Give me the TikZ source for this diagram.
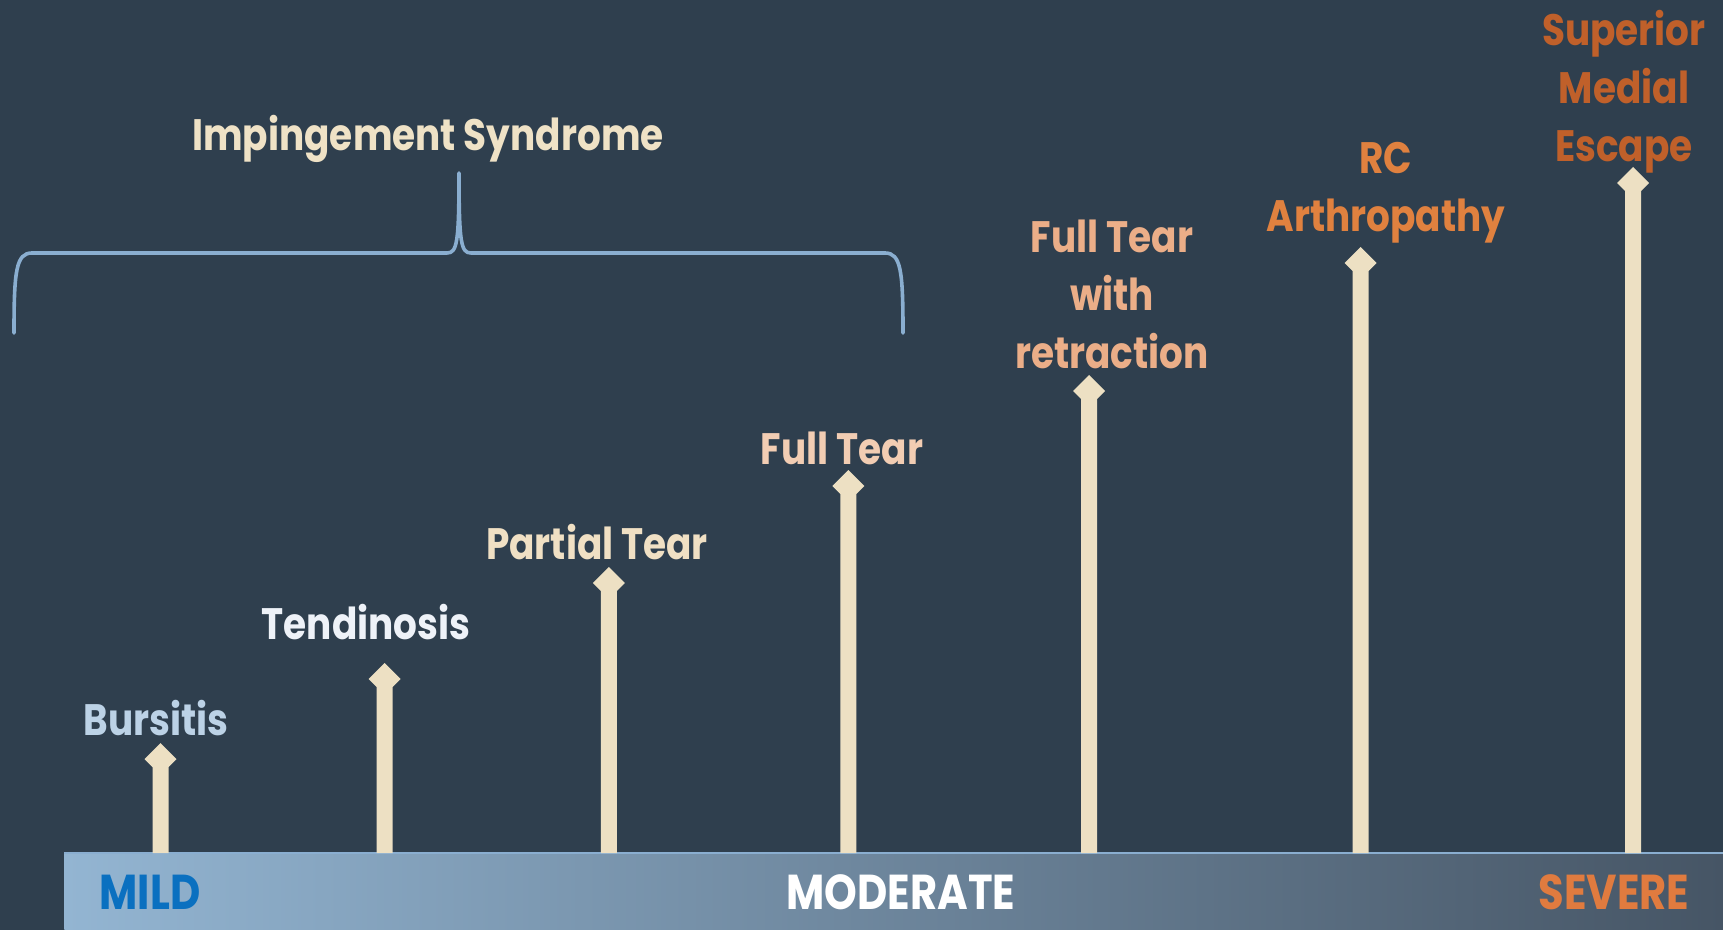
\documentclass[tikz,border=0pt]{standalone}
\usepackage{fontspec}
\setmainfont{Poppins}[FakeStretch=0.85]
\usetikzlibrary{calc}
\definecolor{bg}{HTML}{2F3F4E}
\definecolor{barL}{HTML}{93B5D2}
\definecolor{barR}{HTML}{465565}
\definecolor{arrowc}{HTML}{EDE0C3}
\definecolor{bracec}{HTML}{8AAED0}
\definecolor{cImp}{HTML}{EFE2C6}
\definecolor{cBur}{HTML}{BCD2E6}
\definecolor{cTen}{HTML}{EEF2F8}
\definecolor{cPar}{HTML}{F0E0C4}
\definecolor{cFul}{HTML}{F2CDB3}
\definecolor{cRet}{HTML}{EBAE88}
\definecolor{cRC}{HTML}{E0813F}
\definecolor{cSup}{HTML}{C0602A}
\definecolor{cMild}{HTML}{0A70C0}
\definecolor{cSev}{HTML}{E07B3F}
\tikzset{
  lab/.style={font=\bfseries\fontsize{22}{29}\selectfont, align=center, inner sep=0pt},
  sevtext/.style={font=\bfseries\fontsize{24.5}{29}\selectfont, inner sep=0pt},
  riser/.style={fill=arrowc, draw=none},
}
\newcommand\riserdraw[2]{% base coordinate, tip coordinate
  \fill[riser] ($(#1)+(-8,0)$) -- ($(#2)+(-8,24)$) -- ($(#2)+(-16,16)$) -- (#2)
    -- ($(#2)+(16,16)$) -- ($(#2)+(8,24)$) -- ($(#1)+(8,0)$) -- cycle;}
\begin{document}
\begin{tikzpicture}[x=0.5pt,y=-0.5pt]
\fill[bg] (0,0) rectangle (1723,930);
\useasboundingbox (0,0) rectangle (1723,930);
% severity bar
\node[anchor=north west, minimum width=829.5pt, minimum height=38.5pt, inner sep=0pt,
  left color=barL, right color=barR, draw=none] (bar) at (64,853) {};
\draw[bracec, line width=1pt] (bar.north west) -- (bar.north east);
\node[sevtext, text=cMild] (mild) at (150,892) {MILD};
\node[sevtext, text=white] (moderate) at (901,892) {MODERATE};
\node[sevtext, text=cSev] (severe) at (1614,892) {SEVERE};
% risers
\foreach \n/\x/\t in {1/160.5/743, 2/384.6/663, 3/608.8/567, 4/848.4/470, 5/1089/375, 6/1360.5/247, 7/1633/167}{
  \coordinate (b\n) at (\x,853);
  \coordinate (t\n) at (\x,\t);
  \riserdraw{b\n}{t\n}
}
% labels
\node[lab, text=cBur] (bursitis) at (156,718) {Bursitis};
\node[lab, text=cTen] (tendinosis) at (366,622) {Tendinosis};
\node[lab, text=cPar] (partial) at (597,542) {Partial Tear};
\node[lab, text=cFul] (fulltear) at (842,448) {Full Tear};
\node[lab, text=cRet] (retraction) at (1112,294) {Full Tear\\with\\retraction};
\node[lab, text=cRC] (rc) at (1386,192.5) {RC\\Arthropathy};
\node[lab, text=cSup] (sme) at (1624,91.5) {Superior\\Medial\\Escape};
\node[lab, text=cImp] (imp) at (428,138.5) {Impingement Syndrome};
% brace
\coordinate (brL) at (14,333);
\coordinate (brM) at (459,173);
\coordinate (brR) at (903,333);
\draw[bracec, line width=1.8pt, line cap=round, line join=round]
  (brL) .. controls ($(brL)+(0,-62)$) and ($(brL)+(2,-80)$) .. ($(brL)+(18,-80)$)
  -- ($(brM)+(-12,80)$) .. controls ($(brM)+(-2,80)$) and ($(brM)+(0,70)$) .. (brM)
  .. controls ($(brM)+(0,70)$) and ($(brM)+(2,80)$) .. ($(brM)+(12,80)$)
  -- ($(brR)+(-18,-80)$) .. controls ($(brR)+(-2,-80)$) and ($(brR)+(0,-62)$) .. (brR);
\end{tikzpicture}
\end{document}
